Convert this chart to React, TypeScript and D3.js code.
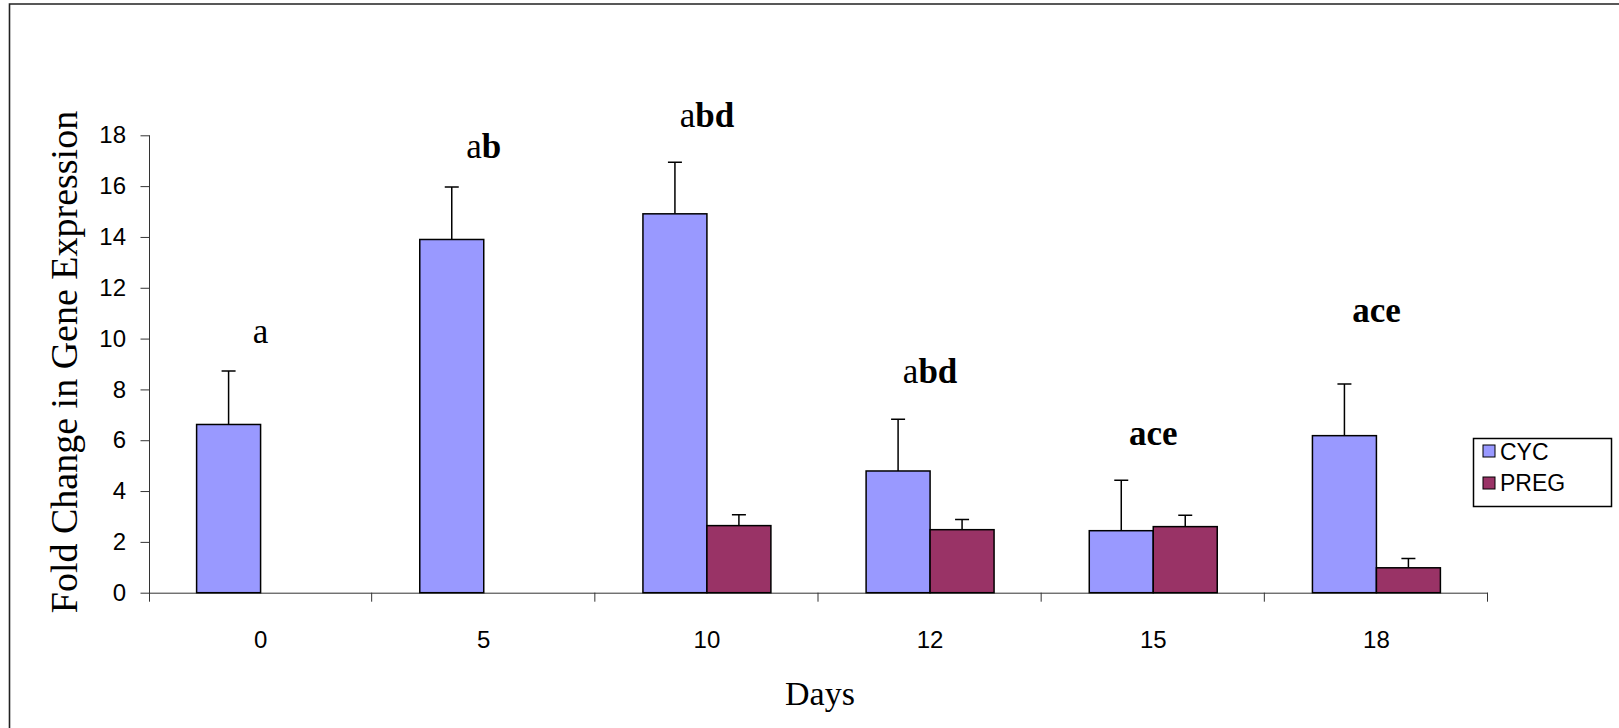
import * as d3 from 'd3';
import { useEffect, useRef } from 'react';

const CYC_COLOR = '#9999FF';
const PREG_COLOR = '#993366';

// days on the x axis
const categories = ['0', '5', '10', '12', '15', '18'];
const seriesNames = ['CYC', 'PREG'];
// mean fold change and upper error (SE) per day
const cycMeans = [6.62, 13.9, 14.91, 4.79, 2.44, 6.18];
const cycErr = [2.1, 2.07, 2.03, 2.04, 1.99, 2.03];
const pregMeans = [null, null, 2.64, 2.48, 2.6, 0.98];
const pregErr = [null, null, 0.43, 0.4, 0.45, 0.37];
// significance letters: [text, bold]
const letters: [string, boolean][][] = [
    [['a', false]],
    [['a', false], ['b', true]],
    [['a', false], ['bd', true]],
    [['a', false], ['bd', true]],
    [['ace', true]],
    [['ace', true]],
];
const letterY = [9.84, 17.11, 18.32, 8.27, 5.8, 10.67];
const yTicks = [0, 2, 4, 6, 8, 10, 12, 14, 16, 18];

export default function App() {
    const ref = useRef<any>();

    useEffect(() => {
        const width = 1619;
        const height = 728;
        const svg = d3.select<any, any>(ref.current);
        svg.selectAll('*').remove();

        const left = 149;
        const right = 1488;
        const top = 135.3;
        const bottom = 592.7;

        // frame
        svg.append('path')
            .attr('d', `M9.5,${height} L9.5,4 L${width},4`)
            .attr('fill', 'none')
            .attr('stroke', '#222')
            .attr('stroke-width', 1.6);

        const yScale = d3.scaleLinear().domain([0, 18]).range([bottom, top]);
        const xScale = d3.scaleBand().domain(categories).range([left, right]).padding(0);
        const inner = d3.scaleBand().domain(seriesNames).range([0, xScale.bandwidth()])
            .paddingInner(0).paddingOuter(0.744);

        const axisColor = '#333';
        const sans = 'Arial, "Liberation Sans", sans-serif';
        const serif = '"Times New Roman", "Liberation Serif", serif';

        // y axis
        const yAxis = d3.axisLeft(yScale).tickValues(yTicks).tickSize(9).tickPadding(14).tickSizeOuter(0);
        const yg = svg.append('g').attr('transform', `translate(${left},0)`).call(yAxis);
        yg.select('.domain').attr('stroke', axisColor).attr('d', `M0.5,${top}V${bottom + 9}`);
        yg.selectAll('.tick line').attr('stroke', axisColor).attr('transform', 'translate(0.5,0)');
        yg.selectAll('.tick text')
            .attr('font-family', sans)
            .attr('font-size', 24)
            .attr('fill', '#000');

        // x axis: ticks at category boundaries
        svg.append('line')
            .attr('x1', left).attr('x2', right)
            .attr('y1', bottom + 0.5).attr('y2', bottom + 0.5)
            .attr('stroke', axisColor);
        const bounds = categories.map((c) => (xScale(c) as number)).concat([right]).slice(1);
        svg.selectAll('.xtick').data(bounds).join('line')
            .attr('class', 'xtick')
            .attr('x1', (d: any) => d - 0.5).attr('x2', (d: any) => d - 0.5)
            .attr('y1', bottom).attr('y2', bottom + 9)
            .attr('stroke', axisColor);
        svg.selectAll('.xlabel').data(categories).join('text')
            .attr('class', 'xlabel')
            .attr('x', (d: any) => (xScale(d) as number) + xScale.bandwidth() / 2)
            .attr('y', 648)
            .attr('text-anchor', 'middle')
            .attr('font-family', sans)
            .attr('font-size', 24)
            .text((d: any) => d);

        // bars
        const rows = categories.map((c, i) => ({
            cat: c,
            values: [
                { name: 'CYC', v: cycMeans[i], e: cycErr[i], color: CYC_COLOR },
                { name: 'PREG', v: pregMeans[i], e: pregErr[i], color: PREG_COLOR },
            ].filter((d) => d.v !== null),
        }));

        const groups = svg.selectAll('.group').data(rows).join('g')
            .attr('class', 'group')
            .attr('transform', (d: any) => `translate(${xScale(d.cat)},0)`);

        groups.selectAll('.err').data((d: any) => d.values).join('path')
            .attr('class', 'err')
            .attr('d', (d: any) => {
                const cx = (inner(d.name) as number) + inner.bandwidth() / 2;
                const y0 = yScale(d.v);
                const y1 = yScale(d.v + d.e);
                return `M${cx},${y0}V${y1}M${cx - 7},${y1}H${cx + 7}`;
            })
            .attr('stroke', '#000')
            .attr('stroke-width', 1.5)
            .attr('fill', 'none');

        groups.selectAll('.bar').data((d: any) => d.values).join('rect')
            .attr('class', 'bar')
            .attr('x', (d: any) => inner(d.name) as number)
            .attr('width', inner.bandwidth())
            .attr('y', (d: any) => yScale(d.v))
            .attr('height', (d: any) => bottom - yScale(d.v))
            .attr('fill', (d: any) => d.color)
            .attr('stroke', '#000')
            .attr('stroke-width', 1.5);

        // significance letters
        const lt = svg.selectAll('.letters').data(categories).join('text')
            .attr('class', 'letters')
            .attr('x', (d: any) => (xScale(d) as number) + xScale.bandwidth() / 2)
            .attr('y', (d: any, i: number) => yScale(letterY[i]))
            .attr('text-anchor', 'middle')
            .attr('font-family', serif)
            .attr('font-size', 35);
        lt.each(function (d: any, i: number) {
            const t = d3.select(this);
            letters[i].forEach(([s, b]) => {
                t.append('tspan').attr('font-weight', b ? 'bold' : 'normal').text(s);
            });
        });

        // axis titles
        svg.append('text')
            .attr('transform', `translate(77,${(top + bottom) / 2 - 2}) rotate(-90)`)
            .attr('text-anchor', 'middle')
            .attr('font-family', serif)
            .attr('font-size', 38)
            .text('Fold Change in Gene Expression');
        svg.append('text')
            .attr('x', 820)
            .attr('y', 705)
            .attr('text-anchor', 'middle')
            .attr('font-family', serif)
            .attr('font-size', 34)
            .text('Days');

        // legend
        const lg = svg.append('g').attr('transform', 'translate(1473,438)');
        lg.append('rect')
            .attr('x', 0.5).attr('y', 0.5)
            .attr('width', 138).attr('height', 68)
            .attr('fill', '#fff')
            .attr('stroke', '#000')
            .attr('stroke-width', 1.5);
        seriesNames.forEach((n, i) => {
            lg.append('rect')
                .attr('x', 10).attr('y', 7 + i * 32)
                .attr('width', 12).attr('height', 12)
                .attr('fill', i === 0 ? CYC_COLOR : PREG_COLOR)
                .attr('stroke', '#000')
                .attr('stroke-width', 1);
            lg.append('text')
                .attr('x', 27).attr('y', 22 + i * 31)
                .attr('font-family', sans)
                .attr('font-size', 23)
                .text(n);
        });
    });

    return (
        <div style={{ position: 'absolute', left: 0, top: 0 }}>
            <svg ref={ref} width={1619} height={728} style={{ display: 'block', background: '#fff' }}></svg>
        </div>
    );
}
